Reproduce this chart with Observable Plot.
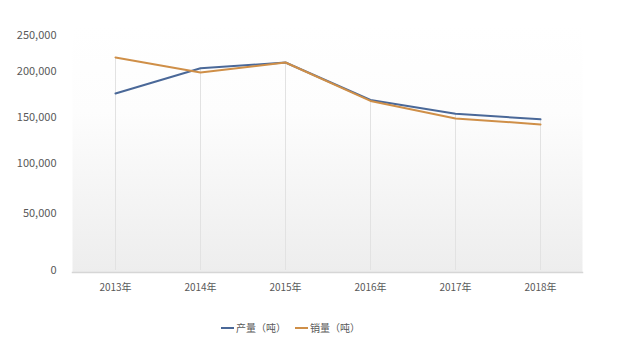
<!DOCTYPE html>
<html>
<head>
<meta charset="utf-8">
<script src="https://cdn.jsdelivr.net/npm/d3@7"></script>
<script src="https://cdn.jsdelivr.net/npm/@observablehq/plot@0.6"></script>
<style>
  body { margin: 0; background: #fff; font-family: "Noto Sans CJK SC", "Noto Sans", sans-serif; }
  #wrap { position: relative; width: 640px; height: 357px; }
  #legend { position: absolute; left: 221px; top: 320px; font-size: 10px; color: #595959; display: flex; align-items: center; white-space: nowrap; }
  .sw { display: inline-block; width: 13px; height: 2px; margin-right: 2px; }
  .item { display: flex; align-items: center; margin-right: 9px; }
</style>
</head>
<body>
<div id="wrap"><div id="chart"></div><div id="legend"></div></div>
<script>
const years = ["2013年", "2014年", "2015年", "2016年", "2017年", "2018年"];
const production = [176000, 204500, 212500, 169000, 154000, 148000];
const sales = [219500, 199000, 212500, 168000, 149000, 142500];
const yTicks = [0, 50000, 100000, 150000, 200000, 250000];
const seriesNames = ["产量（吨）", "销量（吨）"];
const seriesColors = ["#4a6898", "#cf8f48"];

const rows = [];
years.forEach((y, i) => {
  rows.push({year: y, value: production[i], series: seriesNames[0]});
  rows.push({year: y, value: sales[i], series: seriesNames[1]});
});
const maxRows = years.map((y, i) => ({year: y, top: Math.max(production[i], sales[i])}));

const chart = Plot.plot({
  width: 640,
  height: 305,
  marginLeft: 72,
  marginRight: 58,
  marginTop: 25,
  marginBottom: 33,
  style: {fontFamily: '"Noto Sans CJK SC", "Noto Sans", sans-serif', fontSize: "10px", color: "#595959", background: "transparent"},
  x: {type: "point", domain: years, padding: 0.5, label: null},
  y: {type: "linear", domain: yTicks, range: [270, 213, 163, 117, 71, 35], label: null},
  color: {domain: seriesNames, range: seriesColors},
  marks: [
    Plot.frame({fill: "url(#bggrad)", stroke: null}),
    Plot.frame({anchor: "bottom", stroke: "#d6d6d6", strokeWidth: 1.5}),
    Plot.ruleX(maxRows, {x: "year", y1: 0, y2: "top", stroke: "#e2e2e2", strokeWidth: 1}),
    Plot.axisY({ticks: yTicks, tickFormat: d3.format(","), tickSize: 0, tickPadding: 16, fontSize: 11, anchor: "left", label: null}),
    Plot.axisX({tickSize: 0, tickPadding: 11, fontSize: 10, label: null}),
    Plot.line(rows, {x: "year", y: "value", z: "series", stroke: "series", strokeWidth: 2, curve: "linear"})
  ]
});

const ns = "http://www.w3.org/2000/svg";
const defs = document.createElementNS(ns, "defs");
const grad = document.createElementNS(ns, "linearGradient");
grad.setAttribute("id", "bggrad");
grad.setAttribute("x1", "0"); grad.setAttribute("y1", "0");
grad.setAttribute("x2", "0"); grad.setAttribute("y2", "1");
[["0%", "#ffffff"], ["35%", "#fdfdfd"], ["100%", "#ededed"]].forEach(([o, c]) => {
  const s = document.createElementNS(ns, "stop");
  s.setAttribute("offset", o); s.setAttribute("stop-color", c);
  grad.appendChild(s);
});
defs.appendChild(grad);
chart.insertBefore(defs, chart.firstChild);
document.getElementById("chart").appendChild(chart);

const legend = document.getElementById("legend");
seriesNames.forEach((n, i) => {
  const it = document.createElement("span");
  it.className = "item";
  const sw = document.createElement("span");
  sw.className = "sw";
  sw.style.background = seriesColors[i];
  it.appendChild(sw);
  it.appendChild(document.createTextNode(n));
  legend.appendChild(it);
});
</script>
</body>
</html>
